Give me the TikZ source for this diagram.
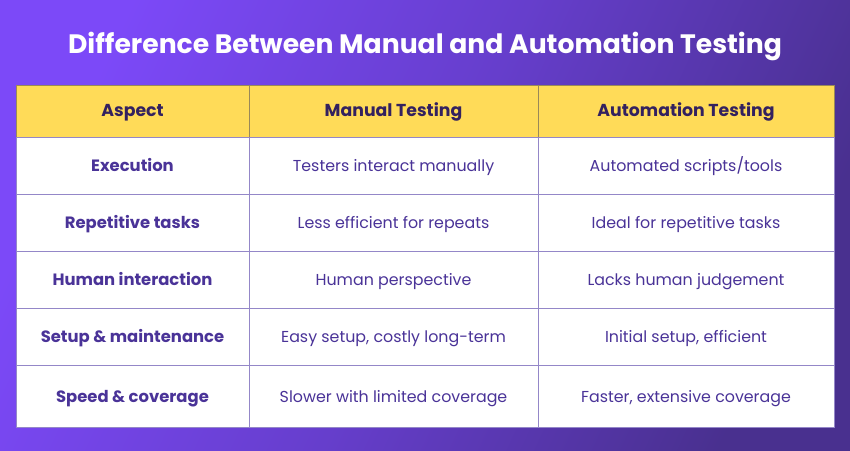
\documentclass[tikz,border=0pt]{standalone}
\usepackage{fontspec}
\setmainfont{Poppins}
\definecolor{ink}{HTML}{4A3398}
\definecolor{headink}{HTML}{33215F}
\definecolor{headfill}{HTML}{FFDB58}
\definecolor{gridline}{HTML}{9487C8}
\definecolor{headline}{HTML}{9A8858}
\definecolor{bgleft}{HTML}{7C49F8}
\definecolor{bgmid}{HTML}{663ECC}
\definecolor{bgright}{HTML}{49308F}
\tikzset{
  cell/.style={draw=gridline,line width=1pt,fill=white,inner sep=0pt,anchor=center,text=ink,text height=16pt,text depth=4pt,font=\fontsize{15.85}{18}\selectfont},
  keycell/.style={cell,font=\fontsize{16.4}{18}\selectfont\bfseries},
  headcell/.style={draw=headline,line width=1pt,fill=headfill,inner sep=0pt,text=headink,text height=15.5pt,text depth=4.5pt,font=\fontsize{17.3}{20}\selectfont\bfseries},
  titletext/.style={text=white,font=\fontsize{26.65}{30}\selectfont\bfseries,inner sep=0pt,text height=24pt,text depth=6pt}
}
\newcommand{\cellat}[7]{% style, name, x0, y0, x1, y1, text
  \node[#1,minimum width=#5pt-#3pt,minimum height=#6pt-#4pt] (#2) at ({(#3+#5)/2},{(#4+#6)/2}) {#7};}
\begin{document}
\begin{tikzpicture}[x=1pt,y=-1pt]
\useasboundingbox (0,0) rectangle (850,450);
\shade[left color=bgleft,right color=bgright,middle color=bgmid,shading angle=65] (0,0) rectangle (850,450);
\node[titletext] (title) at (425,44.5) {Difference Between Manual and Automation Testing};
\cellat{headcell}{h1}{16}{85}{249}{137}{Aspect}
\cellat{headcell}{h2}{249}{85}{538}{137}{Manual Testing}
\cellat{headcell}{h3}{538}{85}{834}{137}{Automation Testing}
\cellat{keycell}{a1}{16}{137}{249}{194}{Execution}
\cellat{cell}{b1}{249}{137}{538}{194}{Testers interact manually}
\cellat{cell}{c1}{538}{137}{834}{194}{Automated scripts/tools}
\cellat{keycell}{a2}{16}{194}{249}{251}{Repetitive tasks}
\cellat{cell}{b2}{249}{194}{538}{251}{Less efficient for repeats}
\cellat{cell}{c2}{538}{194}{834}{251}{Ideal for repetitive tasks}
\cellat{keycell}{a3}{16}{251}{249}{308}{Human interaction}
\cellat{cell}{b3}{249}{251}{538}{308}{Human perspective}
\cellat{cell}{c3}{538}{251}{834}{308}{Lacks human judgement}
\cellat{keycell}{a4}{16}{308}{249}{365}{Setup \& maintenance}
\cellat{cell}{b4}{249}{308}{538}{365}{Easy setup, costly long-term}
\cellat{cell}{c4}{538}{308}{834}{365}{Initial setup, efficient}
\cellat{keycell}{a5}{16}{365}{249}{427}{Speed \& coverage}
\cellat{cell}{b5}{249}{365}{538}{427}{Slower with limited coverage}
\cellat{cell}{c5}{538}{365}{834}{427}{Faster, extensive coverage}
\end{tikzpicture}
\end{document}
